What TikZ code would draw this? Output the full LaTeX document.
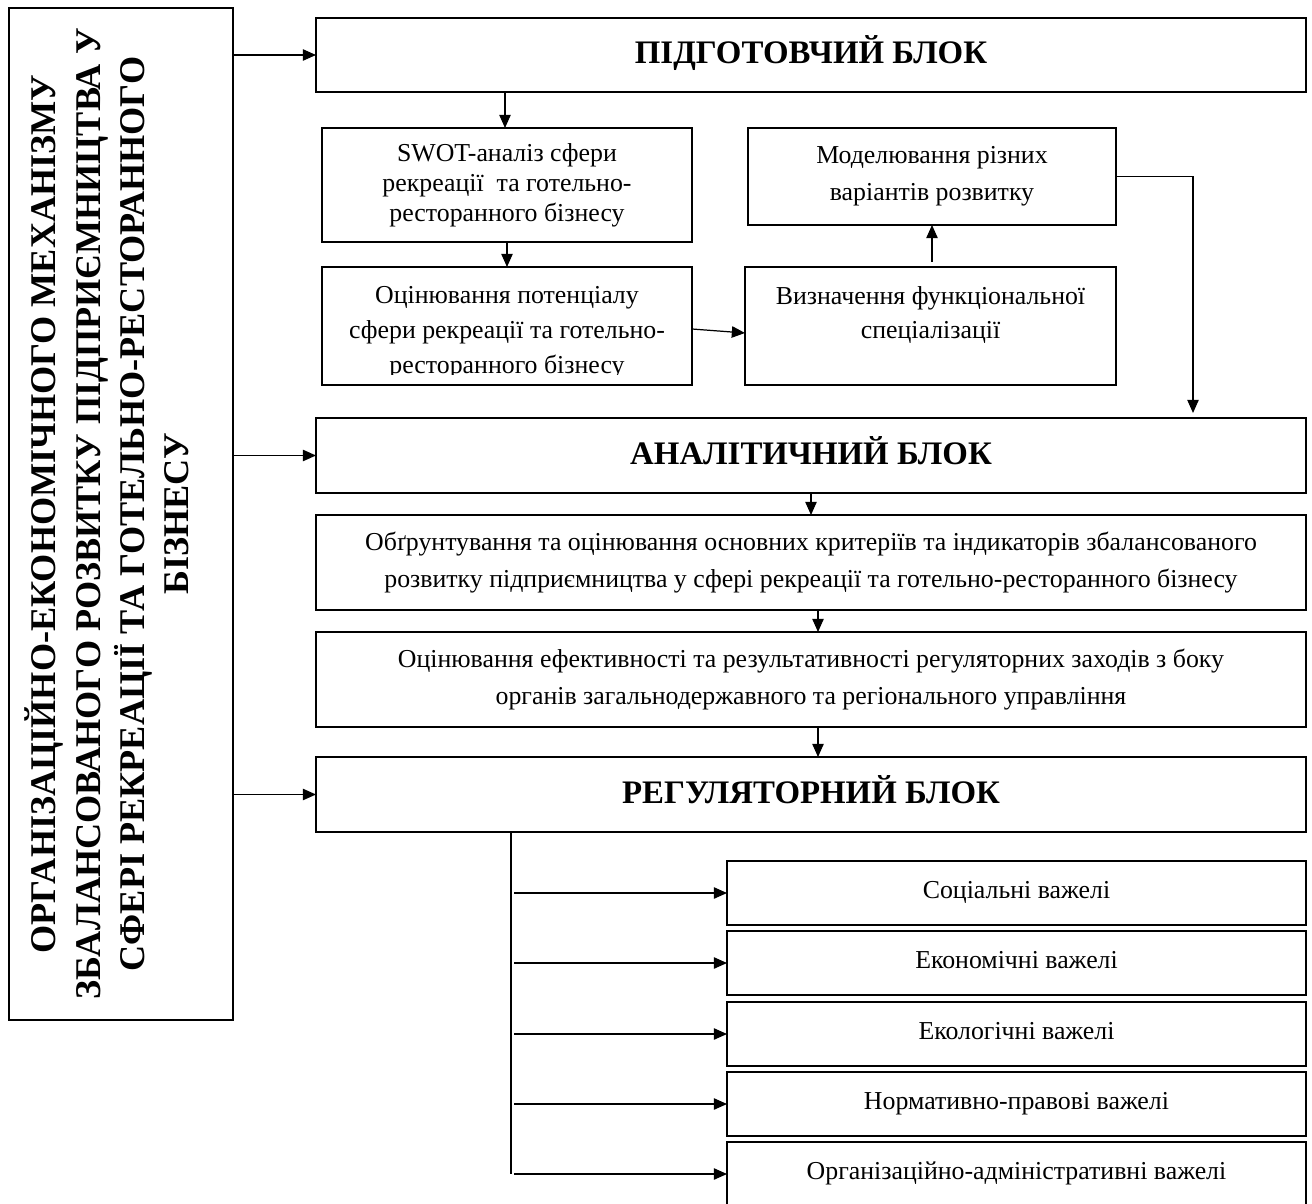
\documentclass[tikz,border=0pt]{standalone}
\usepackage{fontspec}
\setmainfont{Liberation Serif}
\usetikzlibrary{arrows.meta,calc}
\newcommand\bodyf{\fontsize{14.7pt}{21pt}\selectfont}
\newcommand\headf{\fontsize{18.7pt}{22pt}\selectfont\bfseries}
\newcommand\vertf{\fontsize{20.6pt}{25.2pt}\selectfont\bfseries}
\begin{document}
\begin{tikzpicture}[
  box/.style={draw, line width=1.4pt, rectangle, inner sep=0pt, outer sep=0pt, align=center, font=\bodyf},
  headbox/.style={box, font=\headf, minimum width=19.8cm, minimum height=1.48cm},
  wideb/.style={box, minimum width=19.8cm, minimum height=1.90cm},
  lever/.style={box, minimum width=11.58cm, minimum height=1.28cm},
  txt/.style={align=center, inner sep=0pt},
  arr/.style={line width=0.7pt, -{Triangle[length=7.5pt,width=6.5pt]}},
  conn/.style={line width=0.7pt}
]
\useasboundingbox (0,0) rectangle (26.24,-24.08);

% left main box
\node[box, minimum width=4.48cm, minimum height=20.24cm] (main) at (2.42,-10.28) {};
\node[txt, rotate=90, font=\vertf] (maintext) at (2.14,-10.28)
  {ОРГАНІЗАЦІЙНО-ЕКОНОМІЧНОГО МЕХАНІЗМУ\\ЗБАЛАНСОВАНОГО РОЗВИТКУ ПІДПРИЄМНИЦТВА У\\СФЕРІ РЕКРЕАЦІЇ ТА ГОТЕЛЬНО-РЕСТОРАННОГО\\БІЗНЕСУ};

% blocks
\node[headbox] (prep) at (16.22,-1.10) {\raisebox{6pt}{ПІДГОТОВЧИЙ БЛОК}};
\node[headbox, minimum height=1.50cm] (anal) at (16.22,-9.11) {\raisebox{6pt}{АНАЛІТИЧНИЙ БЛОК}};
\node[headbox, minimum height=1.50cm] (reg) at (16.22,-15.89) {\raisebox{6pt}{РЕГУЛЯТОРНИЙ БЛОК}};

\node[box, minimum width=7.4cm, minimum height=2.28cm, font=\fontsize{14.7pt}{17pt}\selectfont] (swot) at (10.14,-3.70)
  {SWOT-аналіз сфери\\рекреації~ та готельно-\\ресторанного бізнесу};
\node[box, minimum width=7.36cm, minimum height=1.94cm] (model) at (18.64,-3.53)
  {Моделювання різних\\варіантів розвитку};

\node[box, minimum width=7.4cm, minimum height=2.36cm] (ocin) at (10.14,-6.52) {};
\begin{scope}
  \clip (6.5,-5.4) rectangle (13.8,-7.49);
  \node[txt, font=\fontsize{14.7pt}{19.8pt}\selectfont] (ocintext) at (10.14,-6.66)
    {Оцінювання потенціалу\\сфери рекреації та готельно-\\ресторанного бізнесу};
\end{scope}

\node[box, minimum width=7.42cm, minimum height=2.36cm] (vyzn) at (18.61,-6.52) {};
\node[txt, font=\fontsize{14.7pt}{19.8pt}\selectfont] (vyzntext) at (18.61,-6.30)
  {Визначення функціональної\\спеціалізації};

\node[wideb] (obg) at (16.22,-11.25)
  {Обґрунтування та оцінювання основних критеріїв та індикаторів збалансованого\\розвитку підприємництва у сфері рекреації та готельно-ресторанного бізнесу};
\node[wideb] (ocef) at (16.22,-13.59)
  {Оцінювання ефективності та результативності регуляторних заходів з боку\\органів загальнодержавного та регіонального управління};

% levers
\node[lever] (soc)  at (20.33,-17.86) {\raisebox{4pt}{Соціальні важелі}};
\node[lever] (ekon) at (20.33,-19.26) {\raisebox{4pt}{Економічні важелі}};
\node[lever] (ekol) at (20.33,-20.68) {\raisebox{4pt}{Екологічні важелі}};
\node[lever] (norm) at (20.33,-22.08) {\raisebox{4pt}{Нормативно-правові важелі}};
\node[lever] (org)  at (20.33,-23.48) {\raisebox{4pt}{Організаційно-адміністративні важелі}};

% connectors
\foreach \n in {prep,anal,reg} \draw[arr] (main.east |- \n.west) -- (\n.west);

\coordinate (s1) at ($(swot.north)+(-0.04,0)$);
\draw[arr] (s1 |- prep.south) -- (s1);
\draw[arr] (swot.south) -- (ocin.north);
\draw[arr] ([yshift=-0.06cm]ocin.east) -- ([yshift=-0.14cm]vyzn.west);
\draw[arr, shorten <=0.1cm] (vyzn.north -| model.south) -- (model.south);
\coordinate (turn) at (23.86,-3.53);
\draw[arr, shorten >=0.1cm] (model.east) -- (turn) -- (turn |- anal.north);

\draw[arr] (anal.south) -- (obg.north);
\draw[arr] ([xshift=0.14cm]obg.south) -- ([xshift=0.14cm]ocef.north);
\draw[arr] ([xshift=0.14cm]ocef.south) -- ([xshift=0.14cm]reg.north);

\coordinate (sp) at ($(reg.south west)+(3.9,0)$);
\coordinate (spb) at ($(sp)+(0.06,0)$);
\draw[conn] (sp) -- (sp |- org.west);
\foreach \n in {soc,ekon,ekol,norm,org} \draw[arr] (spb |- \n.west) -- (\n.west);
\end{tikzpicture}
\end{document}
